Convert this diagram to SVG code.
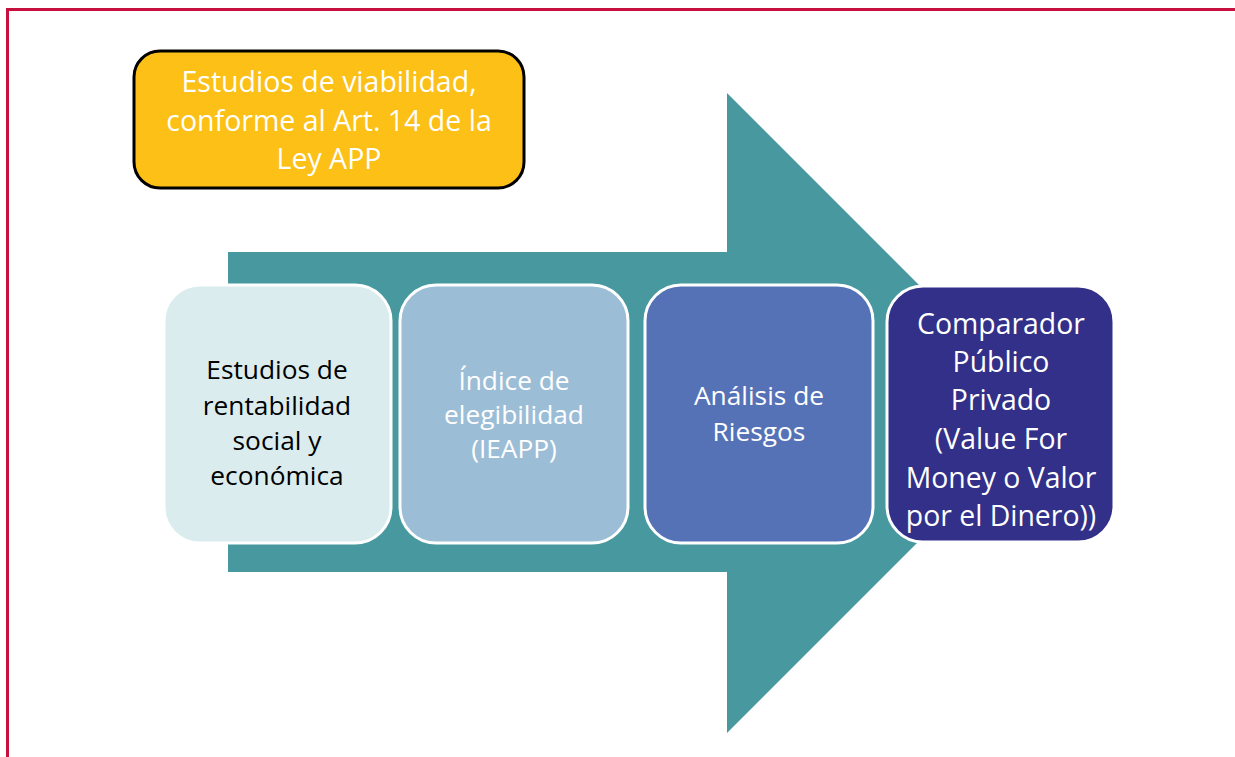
<svg xmlns="http://www.w3.org/2000/svg" width="1235" height="757" viewBox="0 0 1235 757">
<style>
.t{font-family:"Open Sans","Liberation Sans",sans-serif;text-anchor:middle}
.box{stroke:#ffffff;stroke-width:3}
</style>
<rect width="1235" height="757" fill="#ffffff"/>
<path d="M1235 9.5 H7.5 V757" fill="none" stroke="#c8103e" stroke-width="3"/>
<g id="connectors">
<path id="big-arrow" d="M228 252 H727 V93 L1047 413 L727 733 V572 H228 Z" fill="#47999f"/>
</g>
<g id="title">
<rect x="134" y="51" width="390" height="137" rx="26" fill="#fcc016" stroke="#000" stroke-width="3"/>
<text class="t" font-size="28.5" fill="#ffffff"><tspan x="329" y="92">Estudios de viabilidad,</tspan><tspan x="329" y="131">conforme al Art. 14 de la</tspan><tspan x="329" y="169">Ley APP</tspan></text>
</g>
<g id="n1">
<rect class="box" x="164" y="285" width="227" height="258" rx="36" fill="#dbecee"/>
<text class="t" font-size="26.3" fill="#000000"><tspan x="277" y="379">Estudios de</tspan><tspan x="277" y="415">rentabilidad</tspan><tspan x="277" y="450">social y</tspan><tspan x="277" y="485">económica</tspan></text>
</g>
<g id="n2">
<rect class="box" x="400" y="285" width="228" height="258" rx="36" fill="#9bbdd6"/>
<text class="t" font-size="26.3" fill="#ffffff"><tspan x="514" y="390">Índice de</tspan><tspan x="514" y="424">elegibilidad</tspan><tspan x="514" y="458">(IEAPP)</tspan></text>
</g>
<g id="n3">
<rect class="box" x="645" y="285" width="228" height="258" rx="36" fill="#5672b7"/>
<text class="t" font-size="26.3" fill="#ffffff"><tspan x="759" y="405">Análisis de</tspan><tspan x="759" y="441">Riesgos</tspan></text>
</g>
<g id="n4">
<rect class="box" x="887" y="286" width="227" height="256" rx="36" fill="#323088"/>
<text class="t" font-size="28.4" fill="#ffffff"><tspan x="1001" y="334">Comparador</tspan><tspan x="1001" y="372">Público</tspan><tspan x="1001" y="410">Privado</tspan><tspan x="1001" y="449">(Value For</tspan><tspan x="1001" y="488">Money o Valor</tspan><tspan x="1001" y="526">por el Dinero))</tspan></text>
</g>
</svg>
